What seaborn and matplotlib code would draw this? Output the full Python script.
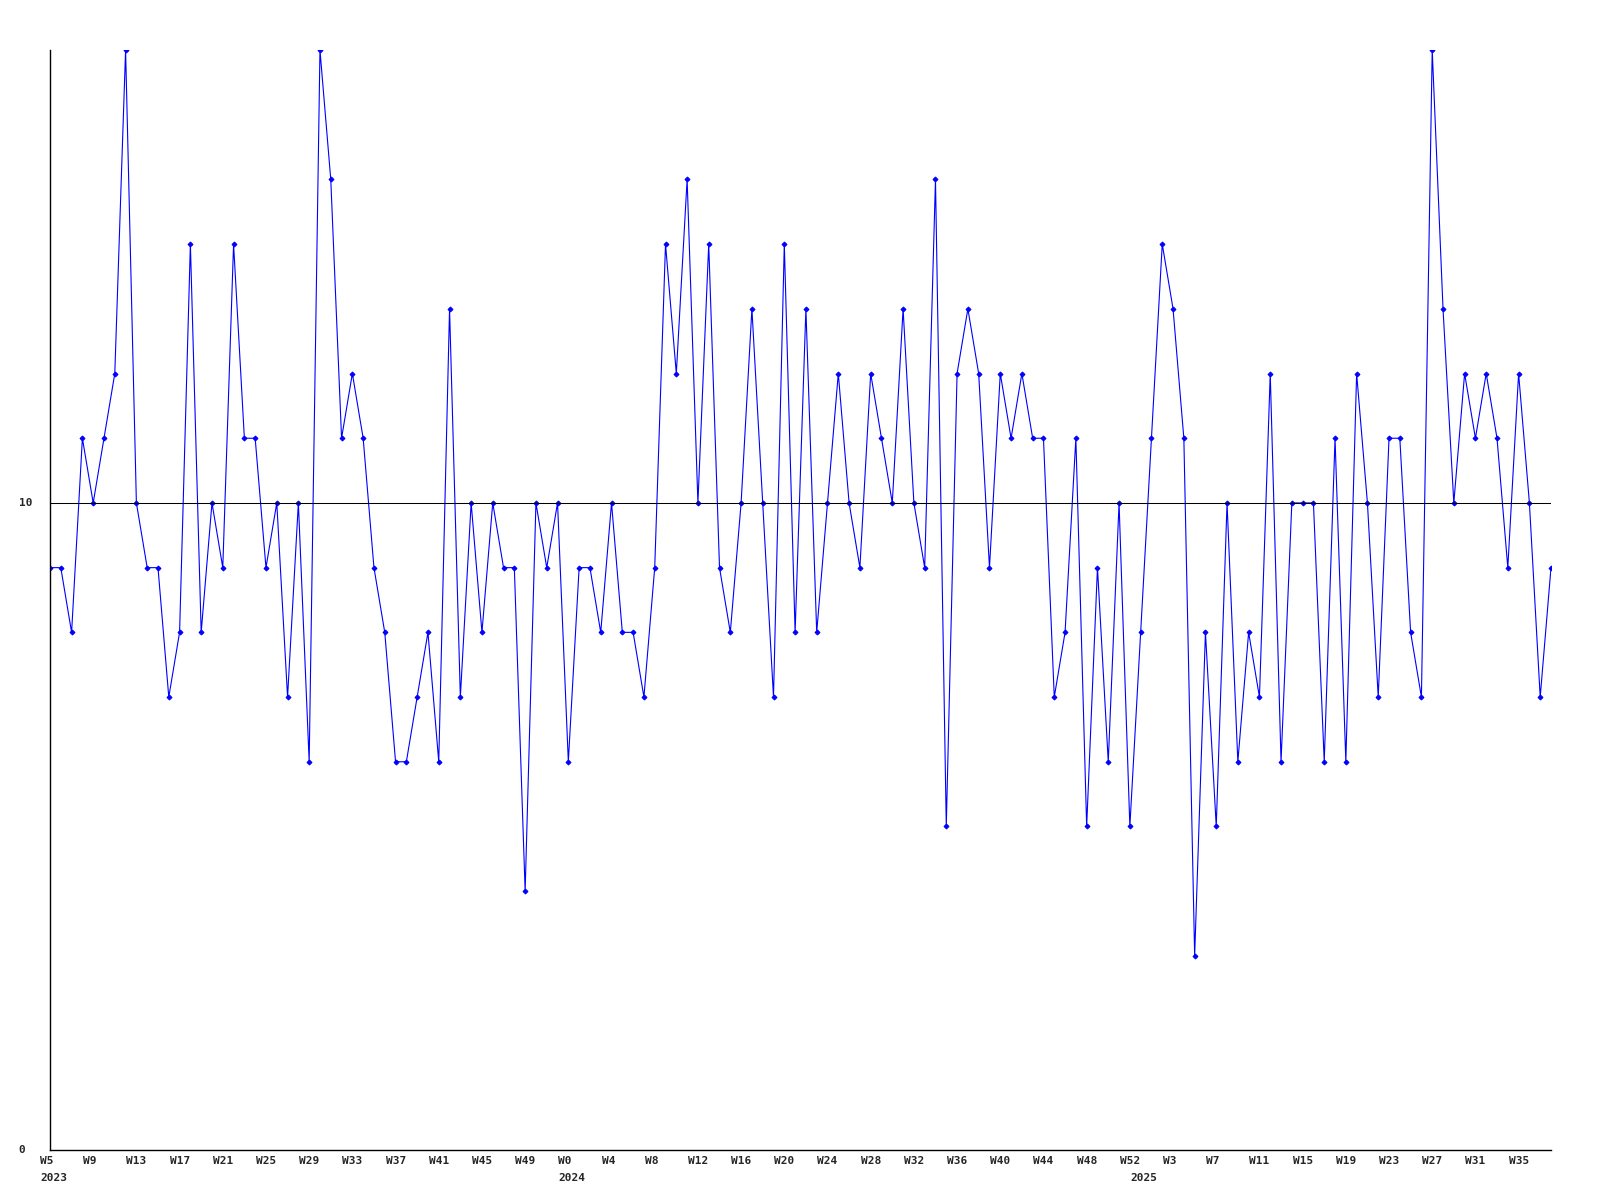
import matplotlib
matplotlib.use("Agg")
import matplotlib.pyplot as plt
import seaborn as sns
import pandas as pd
from matplotlib.transforms import ScaledTranslation, blended_transform_factory

# ---- data (weekly counts, 2023 W5 .. 2025 W38) ----
values = [
    9, 9, 8, 11, 10, 11, 12, 17, 10, 9,
    9, 7, 8, 14, 8, 10, 9, 14, 11, 11,
    9, 10, 7, 10, 6, 17, 15, 11, 12, 11,
    9, 8, 6, 6, 7, 8, 6, 13, 7, 10,
    8, 10, 9, 9, 4, 10, 9, 10, 6, 9,
    9, 8, 10, 8, 8, 7, 9, 14, 12, 15,
    10, 14, 9, 8, 10, 13, 10, 7, 14, 8,
    13, 8, 10, 12, 10, 9, 12, 11, 10, 13,
    10, 9, 15, 5, 12, 13, 12, 9, 12, 11,
    12, 11, 11, 7, 8, 11, 5, 9, 6, 10,
    5, 8, 11, 14, 13, 11, 3, 8, 5, 10,
    6, 8, 7, 12, 6, 10, 10, 10, 6, 11,
    6, 12, 10, 7, 11, 11, 8, 7, 17, 13,
    10, 12, 11, 12, 11, 9, 12, 10, 7, 9,
]
years = [2023] * 48 + [2024] * 53 + [2025] * 39
weeks = list(range(5, 53)) + list(range(0, 53)) + list(range(0, 39))
reference_value = 10
y_ticks = [0, 10]
y_max = 17

df = pd.DataFrame({"idx": range(len(values)), "value": values,
                   "year": years, "week": weeks})

sns.set_theme(style="white")
plt.rcParams["font.family"] = ["DejaVu Sans Mono"]
plt.rcParams["font.weight"] = "bold"
plt.rcParams["font.size"] = 8

W, H = 1600, 1200
fig = plt.figure(figsize=(16, 12), dpi=100)
ax = fig.add_axes([50 / W, 50 / H, (1551 - 50) / W, 1100 / H])

sns.lineplot(data=df, x="idx", y="value", ax=ax, color="#0000ff",
             linewidth=0.8, marker="D", markersize=2.5,
             markeredgecolor="#0000ff", markerfacecolor="#0000ff")
ax.axhline(reference_value, color="black", lw=0.75, zorder=5)

ax.set_xlim(0, len(values) - 1)
ax.set_ylim(0, y_max)
for s in ("top", "right"):
    ax.spines[s].set_visible(False)
for s in ("left", "bottom"):
    ax.spines[s].set_color("black")
    ax.spines[s].set_linewidth(1.0)
ax.set_xlabel("")
ax.set_ylabel("")
ax.grid(False)

# x tick labels every 4 weeks
tick_df = df.iloc[::4]
ax.set_xticks(tick_df["idx"], [f"W{w}" for w in tick_df["week"]])
ax.tick_params(axis="x", length=0, pad=4, labelsize=8)
shift = ScaledTranslation(-10 / 100, 0, fig.dpi_scale_trans)
for lab in ax.get_xticklabels():
    lab.set_horizontalalignment("left")
    lab.set_transform(lab.get_transform() + shift)
    lab.set_fontweight("bold")

# year labels at first week of each year
trans = blended_transform_factory(ax.transData, ax.transAxes) + \
    ScaledTranslation(-10 / 100, -23 / 100, fig.dpi_scale_trans)
for yr, first in df.groupby("year")["idx"].min().items():
    ax.text(first, 0, str(yr), transform=trans, ha="left", va="top",
            fontsize=8, fontweight="bold")

# y tick labels
ax.set_yticks(y_ticks, [str(v) for v in y_ticks])
ax.tick_params(axis="y", length=0, pad=22.5, labelsize=8)
for lab in ax.get_yticklabels():
    lab.set_horizontalalignment("left")
    lab.set_verticalalignment("center")
    lab.set_fontweight("bold")

fig.savefig("out.png", dpi=100, facecolor="white")
